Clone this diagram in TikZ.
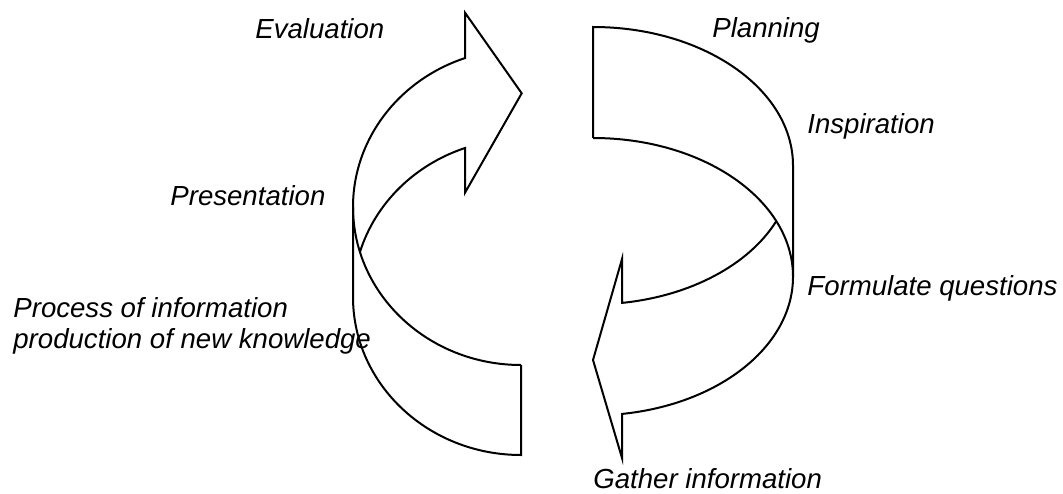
\documentclass[tikz,border=0pt]{standalone}
\usepackage{fontspec}
\setmainfont{Liberation Sans}
\usepackage{tikz}

\begin{document}
\begin{tikzpicture}[x=0.5pt,y=0.5pt,
    ribbon/.style={line width=1pt, line join=miter},
    stage/.style={anchor=base west, inner sep=0pt,
      font=\fontsize{13.8}{15.5}\selectfont\itshape}]
  % Page frame
  \useasboundingbox (0,0) rectangle (1063,493);

  % Left arrow: ribbon round the left side, head pointing right
  \draw[ribbon] (521,128) -- (521,38)
    arc[start angle=270, end angle=180, x radius=168, y radius=158] -- (353,286)
    arc[start angle=180, end angle=109.47, x radius=168, y radius=158]
    -- (465,480.3) -- (521.7,399.7) -- (465,300.3) -- (465,345)
    arc[start angle=109.47, end angle=163.44, x radius=168, y radius=158];
  \draw[ribbon] (353,286) arc[start angle=180, end angle=270, x radius=168, y radius=158];

  % Right arrow: ribbon round the right side, head pointing left
  \draw[ribbon] (593,355) -- (593,466)
    arc[start angle=90, end angle=0, x radius=200, y radius=138.7] -- (793,216.3)
    arc[start angle=0, end angle=-81.66, x radius=200, y radius=138.7]
    -- (622,35) -- (593,133) -- (622,234) -- (622,190.1)
    arc[start angle=-81.66, end angle=-23.58, x radius=200, y radius=138.7];
  \draw[ribbon] (593,355) arc[start angle=90, end angle=0, x radius=200, y radius=138.7];

  % Stages of the cycle
  \node[stage] (eval) at (255,454) {Evaluation};
  \node[stage] (pres) at (170,287) {Presentation};
  \node[stage, align=left] (proc) at (13,145) {Process of information\\production of new knowledge};
  \node[stage] (plan) at (712,455) {Planning};
  \node[stage] (insp) at (807,359) {Inspiration};
  \node[stage] (form) at (807,198) {Formulate questions};
  \node[stage] (gath) at (593,5) {Gather information};
\end{tikzpicture}
\end{document}
